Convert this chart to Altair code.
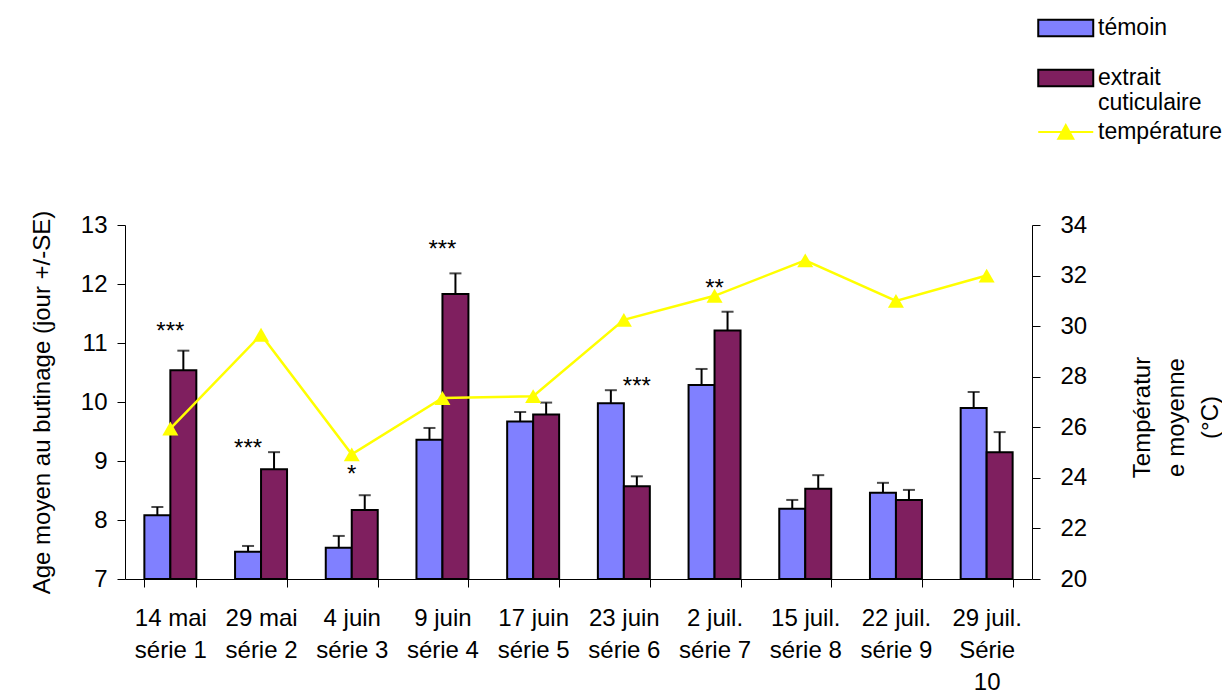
import altair as alt
import pandas as pd

FONT = "Liberation Sans"
FS = 24

dates = ["14 mai\nsérie 1", "29 mai\nsérie 2", "4 juin\nsérie 3", "9 juin\nsérie 4",
         "17 juin\nsérie 5", "23 juin\nsérie 6", "2 juil.\nsérie 7", "15 juil.\nsérie 8",
         "22 juil.\nsérie 9", "29 juil.\nSérie\n10"]
groups = ["témoin", "extrait cuticulaire"]
temoin = [8.08, 7.46, 7.53, 9.36, 9.67, 9.98, 10.29, 8.19, 8.46, 9.90]
temoin_se = [0.14, 0.10, 0.20, 0.20, 0.16, 0.22, 0.27, 0.15, 0.17, 0.27]
extrait = [10.54, 8.86, 8.17, 11.83, 9.79, 8.57, 11.21, 8.53, 8.34, 9.15]
extrait_se = [0.33, 0.29, 0.25, 0.35, 0.20, 0.17, 0.32, 0.23, 0.17, 0.34]
temperature = [25.95, 29.66, 24.93, 27.16, 27.23, 30.25, 31.2, 32.6, 31.0, 32.0]

star_idx = [0, 1, 2, 3, 5, 6]
stars = ["***", "***", "*", "***", "***", "**"]
star_y = [11.06, 9.09, 8.65, 12.46, 10.14, 11.79]
star_anchor = ["centre", "témoin", "centre", "centre", "extrait cuticulaire", "centre"]

bars = pd.DataFrame({
    "date": dates * 2,
    "groupe": [groups[0]] * len(dates) + [groups[1]] * len(dates),
    "age": temoin + extrait,
    "se": temoin_se + extrait_se,
})
bars["haut"] = bars["age"] + bars["se"]

temp_df = pd.DataFrame({"date": dates, "temp": temperature, "serie": ["température"] * len(dates)})

stars_df = pd.DataFrame({
    "date": [dates[i] for i in star_idx],
    "txt": stars,
    "y": star_y,
    "anchor": star_anchor,
})

x_enc = alt.X(
    "date:N", sort=dates, title=None,
    scale=alt.Scale(paddingInner=0.427, paddingOuter=0.2135),
    axis=alt.Axis(labelExpr="split(datum.label, '\\n')", labelAngle=0, tickBand="extent",
                  labelFontSize=FS, labelLineHeight=32, labelPadding=19, tickSize=8,
                  labelFont=FONT, labelColor="black", domainColor="black", tickColor="black",
                  labelLimit=200),
)
xoff = alt.XOffset("groupe:N", sort=groups, scale=alt.Scale(domain=groups, paddingInner=0, paddingOuter=0))

left_axis = alt.Axis(values=[7, 8, 9, 10, 11, 12, 13], title="Age moyen au butinage (jour +/-SE)",
                     labelFontSize=FS, labelFont=FONT, labelColor="black", labelPadding=10,
                     tickSize=8, tickColor="black", domainColor="black", grid=False,
                     titleFont=FONT, titleFontSize=FS, titleFontWeight="normal", titleColor="black",
                     titlePadding=26)
left_scale = alt.Scale(domain=[7, 13], zero=False, nice=False)

LEG_FS = 23

bar = alt.Chart(bars).mark_bar(stroke="black", strokeWidth=2).encode(
    x=x_enc, xOffset=xoff,
    y=alt.Y("age:Q", scale=left_scale, axis=left_axis),
    y2=alt.datum(7),
    fill=alt.Fill("groupe:N", sort=groups,
                  scale=alt.Scale(domain=groups, range=["#8080FF", "#7F1F5F"]),
                  legend=alt.Legend(title=None, orient="none", legendX=912, legendY=-212,
                                    direction="vertical", symbolType="M-1,-0.6H3V0.6H-1Z",
                                    symbolSize=756, symbolStrokeColor="black", symbolStrokeWidth=2,
                                    labelFontSize=LEG_FS, labelFont=FONT, labelColor="black",
                                    labelOffset=31, rowPadding=22, padding=0, labelLimit=300,
                                    labelExpr="datum.label == 'extrait cuticulaire' ? ['extrait', 'cuticulaire'] : datum.label")),
)

rule = alt.Chart(bars).mark_rule(color="black", strokeWidth=2).encode(
    x=x_enc, xOffset=xoff,
    y=alt.Y("age:Q", scale=left_scale, axis=left_axis),
    y2="haut:Q",
)

cap = alt.Chart(bars).mark_tick(color="black", thickness=2, size=12).encode(
    x=x_enc, xOffset=xoff,
    y=alt.Y("haut:Q", scale=left_scale, axis=left_axis),
)

stars_c = alt.Chart(stars_df).transform_filter("datum.anchor == 'centre'").mark_text(
    fontSize=FS, font=FONT, color="black", baseline="alphabetic").encode(
    x=x_enc, y=alt.Y("y:Q", scale=left_scale, axis=left_axis), text="txt:N")

stars_b = alt.Chart(stars_df).transform_filter("datum.anchor != 'centre'").mark_text(
    fontSize=FS, font=FONT, color="black", baseline="alphabetic").encode(
    x=x_enc, xOffset=alt.XOffset("anchor:N", sort=groups, scale=alt.Scale(domain=groups, paddingInner=0, paddingOuter=0)),
    y=alt.Y("y:Q", scale=left_scale, axis=left_axis), text="txt:N")

left = alt.layer(bar, rule, cap, stars_c, stars_b)

right_scale = alt.Scale(domain=[20, 34], zero=False, nice=False)
right_axis = alt.Axis(orient="right", values=[20, 22, 24, 26, 28, 30, 32, 34],
                      title=["Températur", "e moyenne", "(°C)"],
                      labelFontSize=FS, labelFont=FONT, labelColor="black", labelPadding=20,
                      tickSize=8, tickColor="black", domainColor="black", grid=False,
                      titleFont=FONT, titleFontSize=FS, titleFontWeight="normal", titleColor="black",
                      titleAngle=270, titlePadding=0, titleLineHeight=34, titleY=192)

line = alt.Chart(temp_df).mark_line(strokeWidth=2.5).encode(
    x=x_enc,
    y=alt.Y("temp:Q", scale=right_scale, axis=right_axis),
    stroke=alt.Stroke("serie:N", scale=alt.Scale(domain=["température"], range=["#FFFF00"]),
                      legend=alt.Legend(title=None, orient="none", legendX=912, legendY=-108,
                                        symbolType="M-1,0H3M0.45,0.5L1,-0.5L1.55,0.5Z",
                                        symbolSize=756, symbolFillColor="#FFFF00",
                                        symbolStrokeColor="#FFFF00", symbolStrokeWidth=2,
                                        labelFontSize=LEG_FS, labelFont=FONT, labelColor="black",
                                        labelOffset=31, padding=0, labelLimit=300)),
)
pts = alt.Chart(temp_df).mark_point(shape="triangle-up", size=256, filled=True, color="#FFFF00", opacity=1).encode(
    x=x_enc,
    y=alt.Y("temp:Q", scale=right_scale, axis=right_axis),
)
right = alt.layer(line, pts)

chart = alt.layer(left, right).resolve_scale(y="independent").properties(
    width=907, height=354,
    padding={"left": 117, "top": 217, "right": 190, "bottom": 116},
    autosize=alt.AutoSizeParams(type="none"),
).configure_view(stroke=None)

chart.save("out.html", embed_options={"renderer": "svg", "actions": False})
